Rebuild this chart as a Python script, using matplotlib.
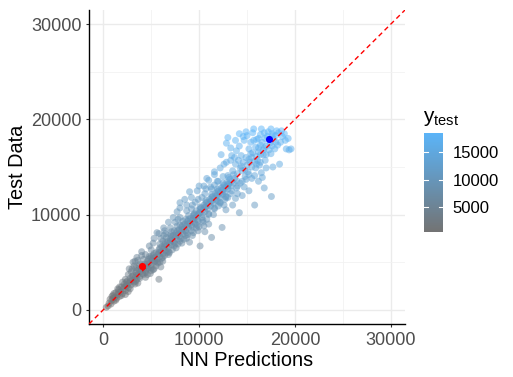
import matplotlib.pyplot as plt
from matplotlib.colors import LinearSegmentedColormap, Normalize
from matplotlib.cm import ScalarMappable

plt.rcParams['font.family'] = ['Liberation Sans', 'DejaVu Sans']
plt.rcParams['mathtext.fontset'] = 'custom'
plt.rcParams['mathtext.rm'] = 'Liberation Sans'

# (prediction, test) pairs
points = [
    # low end, narrow band
    (300, 250), (500, 400), (600, 700), (800, 600), (900, 1000), (1100, 900), (700, 1100),
    (1200, 1300), (1400, 1200), (1000, 1500), (1500, 1600), (1700, 1400), (1300, 1800),
    (1800, 1900), (2000, 1700), (1600, 2100), (2100, 2200), (2300, 2000), (1900, 2400),
    (2400, 2500), (2600, 2300), (2200, 2700), (2700, 2800), (2900, 2600), (2500, 3000),
    (3000, 3100), (3200, 2900), (2800, 3300), (1500, 2200), (2000, 2900), (3300, 2700),
    (1100, 1700), (2600, 1900), (900, 1400), (1300, 1000), (1700, 2400), (2300, 1600),
    (2800, 2200), (2300, 3200), (3400, 3000), (1900, 1500), (2500, 2600), (3600, 2800),
    (1000, 1200), (1600, 1800), (2200, 2400), (2800, 3000), (2400, 2900),
    # 3000 - 6000
    (3300, 3400), (3500, 3200), (3100, 3600), (3600, 3700), (3800, 3500), (3400, 3900),
    (3900, 4000), (4100, 3800), (3700, 4200), (4200, 4300), (4400, 4100), (4000, 4500),
    (4500, 4600), (4700, 4400), (4300, 4800), (4800, 4900), (5000, 4700), (4600, 5100),
    (5100, 5200), (5300, 5000), (4900, 5400), (5400, 5500), (5600, 5300), (5200, 5700),
    (5700, 5800), (5900, 5600), (5500, 6000), (2900, 4000), (3200, 4600), (3600, 5200),
    (4000, 5700), (4600, 3700), (5000, 4100), (5500, 4600), (5900, 5000), (5800, 3200),
    (2600, 3700), (3400, 4400), (4800, 5600), (6100, 5400), (3000, 4300), (4200, 5300),
    (5200, 4200), (2700, 4300), (3100, 5000), (3500, 5500), (4000, 6100), (4400, 3400),
    (4900, 3800), (5300, 4300), (5700, 4900), (6200, 5100), (3800, 4800), (4400, 5800),
    (5000, 6300), (6400, 5700), (3300, 5100), (4600, 4300), (5400, 5100), (5000, 5600),
    (4200, 3700), (3700, 4600), (6000, 4500), (3400, 3600), (4000, 4200), (4600, 4800),
    (5200, 5400), (5800, 6000), (3800, 3300), (4400, 3900), (5000, 4400), (5600, 5000),
    (3000, 3500), (3500, 4100), (4100, 4700), (4700, 5300), (5300, 5900),
    # 6000 - 10000
    (6000, 6100), (6200, 5900), (5800, 6300), (6300, 6400), (6500, 6200), (6100, 6600),
    (6600, 6700), (6800, 6500), (6400, 6900), (6900, 7000), (7100, 6800), (6700, 7200),
    (7200, 7300), (7400, 7100), (7000, 7500), (7500, 7600), (7700, 7400), (7300, 7800),
    (7800, 7900), (8000, 7700), (7600, 8100), (8100, 8200), (8300, 8000), (7900, 8400),
    (8400, 8500), (8600, 8300), (8200, 8700), (8700, 8800), (8900, 8600), (8500, 9000),
    (9000, 9100), (9200, 8900), (8800, 9300), (9300, 9400), (9500, 9200), (9100, 9600),
    (9600, 9700), (9800, 9500), (9400, 9900), (9900, 10000), (5600, 8100), (5200, 7000),
    (6000, 7500), (6500, 8000), (7000, 8600), (7500, 9200), (8000, 9700), (7200, 6300),
    (7800, 6900), (8400, 7400), (9000, 7100), (10100, 6700), (9400, 8100), (10000, 8700),
    (11300, 7600), (12400, 8650), (6800, 5800), (8800, 7900), (9700, 8600), (10400, 9200),
    (6200, 7200), (7400, 8300), (8600, 9500), (4800, 6700), (5300, 7500), (5800, 8000),
    (6300, 8600), (6800, 9200), (7300, 9700), (7700, 10300), (6900, 6000), (7600, 6500),
    (8200, 7000), (8700, 7500), (9300, 7800), (9900, 8300), (10500, 8800), (10800, 9500),
    (5900, 6900), (6600, 7600), (7100, 8200), (7700, 8800), (8300, 9300), (8900, 9900),
    (7500, 6900), (8100, 7500), (8700, 8100), (9300, 8700), (9900, 9300), (6600, 6000),
    (7000, 7900), (8000, 8900), (9600, 9000), (10300, 9700), (6400, 8300), (7800, 9500),
    (9200, 10600), (10600, 8200), (11000, 9000), (6300, 7800), (6400, 6600), (7000, 7200),
    (7600, 7800), (8200, 8400), (8800, 9000), (9400, 9600), (6200, 5500), (6800, 6100),
    (7400, 6700), (8000, 7200), (8600, 7800), (9200, 8300), (9800, 8900), (10400, 9400),
    (5900, 6500), (6500, 7100), (7100, 7700), (7700, 8300), (8300, 8900), (8900, 9500),
    (9500, 10100),
    # 10000 - 14000
    (10100, 10200), (10300, 10000), (9700, 10400), (10400, 10500), (10600, 10300),
    (10200, 10700), (10700, 10800), (10900, 10600), (10500, 11000), (11000, 11100),
    (11200, 10900), (10800, 11300), (11300, 11400), (11500, 11200), (11100, 11600),
    (11600, 11700), (11800, 11500), (11400, 11900), (11900, 12000), (12100, 11800),
    (11700, 12200), (12200, 12300), (12400, 12100), (12000, 12500), (12500, 12600),
    (12700, 12400), (12300, 12800), (12800, 12900), (13000, 12700), (12600, 13100),
    (13100, 13200), (13300, 13000), (12900, 13400), (13400, 13500), (13600, 13300),
    (13200, 13700), (13700, 13800), (13900, 13600), (8000, 11250), (8700, 11000),
    (9200, 11800), (9800, 12500), (10500, 13000), (11000, 13600), (11600, 14200),
    (14200, 10200), (15800, 11000), (17550, 11900), (16800, 12800), (13500, 11000),
    (12800, 10500), (14500, 12000), (11500, 10000), (12600, 11000), (15200, 12500),
    (14000, 13000), (10300, 11800), (11300, 12700), (12000, 13500), (15500, 13800),
    (13000, 11800), (14700, 12900), (16200, 13500), (8000, 10700), (8700, 10400),
    (9300, 11000), (9900, 11600), (10600, 12200), (11200, 12900), (11900, 13500),
    (12500, 14000), (11000, 10000), (11600, 10600), (12200, 11300), (12800, 11900),
    (13400, 12500), (14000, 12200), (13800, 11700), (14300, 13300), (14800, 14000),
    (9500, 10000), (10100, 10800), (10700, 11500), (11300, 12100), (11900, 12700),
    (12500, 13300), (13100, 13900), (12000, 10900), (12700, 11600), (13300, 12200),
    (13900, 12800), (8500, 11600), (9000, 12400), (10000, 13000), (10800, 13800),
    (12000, 11400), (11600, 13100), (10700, 12700), (12500, 12200), (13000, 13000),
    (14500, 13500), (15200, 14200), (9600, 11300), (10000, 10200), (10600, 10800),
    (11200, 11400), (11800, 12000), (12400, 12600), (13000, 13200), (11000, 10100),
    (11600, 10700), (12200, 11200), (12800, 11800), (10100, 10600), (10700, 11200),
    (11300, 11800), (11900, 12400), (12500, 12900),
    # 14000 - 19000
    (11600, 14500), (12850, 15500), (12850, 17500), (14200, 18500), (18400, 15300),
    (19100, 16900), (19400, 16800), (13000, 14100), (13500, 14600), (14000, 14300),
    (14300, 14900), (14800, 14700), (15000, 15200), (15500, 15000), (14600, 15500),
    (13800, 15300), (15200, 15800), (15800, 15600), (16000, 16100), (15400, 16400),
    (16400, 16300), (16700, 16800), (16200, 17000), (17000, 17200), (16600, 17600),
    (17400, 17500), (17800, 17900), (17100, 18200), (17600, 18500), (18000, 18300),
    (16800, 18600), (15600, 18600), (15000, 18300), (14700, 17800), (15400, 17600),
    (16000, 17900), (18300, 18600), (18700, 18200), (18500, 17600), (19000, 17800),
    (17900, 16900), (17500, 16400), (16900, 15700), (16300, 15200), (17000, 14900),
    (16500, 14400), (15800, 14100), (14400, 16200), (13900, 16700), (14200, 17200),
    (13400, 16200), (15900, 17100), (16400, 18400), (17200, 18700), (18100, 18800),
    (18900, 18500), (15200, 16900), (16100, 15700), (17700, 15000), (16600, 13900),
    (14900, 13700), (15600, 16500), (12200, 14900), (12600, 15300), (13300, 15700),
    (13700, 16000), (14400, 15100), (15100, 14500), (15900, 14900), (16400, 15500),
    (14900, 16000), (15500, 16000), (16200, 16600), (16800, 17000), (17300, 17900),
    (17700, 18300), (16900, 18000), (16200, 18000), (15700, 17800), (14900, 18700),
    (15700, 19000), (16500, 19000), (17500, 19000), (18200, 17300), (18600, 18800),
    (17300, 16800), (16700, 16300), (14500, 14600), (13600, 14200), (15300, 15500),
    (16000, 15300), (17000, 16300), (14100, 15700), (13300, 17000), (13000, 18100),
    (13800, 17800), (14600, 18200), (12300, 16300), (17600, 17200), (16400, 17300),
    (18000, 17600), (19300, 18000), (19600, 16900),
]
pred = [p for p, t in points]
test = [t for p, t in points]

low_point = (4000, 4600)
high_point = (17300, 17900)

color_min, color_max = 450, 18500
axis_ticks = [0, 10000, 20000, 30000]
minor_ticks = [5000, 15000, 25000]
bar_ticks = [5000, 10000, 15000]

cmap = LinearSegmentedColormap.from_list('ytest', ['#737373', '#5BB4F8'])
norm = Normalize(color_min, color_max)

fig = plt.figure(figsize=(5.13, 3.77), dpi=100)
ax = fig.add_axes([89 / 513, 1 - 324 / 377, 316 / 513, 314 / 377])

ax.scatter(pred, test, c=test, cmap=cmap, norm=norm, s=25, alpha=0.5, linewidths=0, zorder=2)
ax.axline((0, 0), slope=1, color='red', linestyle=(0, (3.5, 2.5)), linewidth=1, zorder=3)
ax.scatter([low_point[0]], [low_point[1]], color='red', s=26, zorder=4, linewidths=0)
ax.scatter([high_point[0]], [high_point[1]], color='blue', s=26, zorder=4, linewidths=0)

ax.set_xlim(-1500, 31500)
ax.set_ylim(-1500, 31500)
ax.set_xticks(axis_ticks)
ax.set_yticks(axis_ticks)
ax.set_xticks(minor_ticks, minor=True)
ax.set_yticks(minor_ticks, minor=True)
ax.grid(True, which='major', color='#EBEBEB', linewidth=1.0, zorder=0)
ax.grid(True, which='minor', color='#F2F2F2', linewidth=0.6, zorder=0)
ax.set_axisbelow(True)
ax.tick_params(which='major', length=2.5, width=0.8, color='#333333',
               labelsize=13, labelcolor='#4D4D4D', pad=3)
ax.tick_params(which='minor', length=0)
for side in ['top', 'right']:
    ax.spines[side].set_visible(False)
for side in ['left', 'bottom']:
    ax.spines[side].set_linewidth(1.0)
    ax.spines[side].set_color('black')
ax.set_xlabel('NN Predictions', fontsize=14.3, labelpad=2)
ax.set_ylabel('Test Data', fontsize=14.3, labelpad=3)

cax = fig.add_axes([424 / 513, 1 - 232 / 377, 19 / 513, 99 / 377])
cb = fig.colorbar(ScalarMappable(norm=norm, cmap=cmap), cax=cax, ticks=bar_ticks)
cb.outline.set_visible(False)
cax.tick_params(length=0, labelsize=12, pad=7)
for v in bar_ticks:
    cax.plot([0, 0.2], [v, v], color='white', linewidth=0.8, transform=cax.get_yaxis_transform())
    cax.plot([0.8, 1], [v, v], color='white', linewidth=0.8, transform=cax.get_yaxis_transform())
fig.text(423 / 513, 1 - 122 / 377, r'$\mathrm{y}_{\mathrm{test}}$', fontsize=15, ha='left', va='baseline')

fig.savefig('out.png', dpi=100)
